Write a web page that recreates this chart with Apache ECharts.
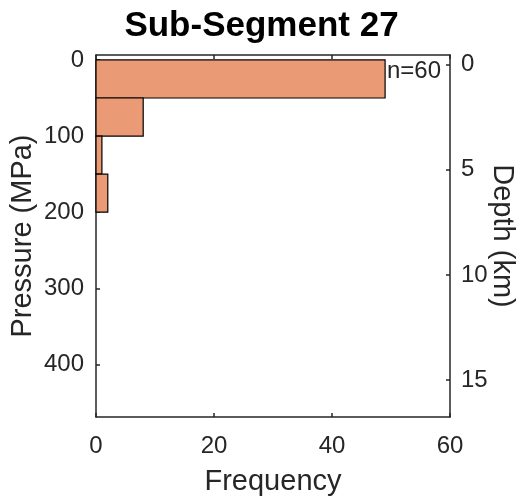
<!DOCTYPE html>
<html>
<head>
<meta charset="utf-8">
<script src="https://cdn.jsdelivr.net/npm/echarts@6/dist/echarts.min.js"></script>
<style>
html,body{margin:0;padding:0;background:#fff;}
#c{width:523px;height:499px;}
</style>
</head>
<body>
<div id="c"></div>
<script>
const binEdges = [0, 50, 100, 150, 200];
const counts = [49, 8, 1, 2];
const pressureTicks = [0, 100, 200, 300, 400];
const depthTicks = [0, 5, 10, 15];
const freqTicks = [0, 20, 40, 60];
const titleText = 'Sub-Segment 27';
const nText = 'n=60';

const FONT = '"Liberation Sans", Arial, Helvetica, sans-serif';
const bins = counts.map((c, i) => [binEdges[i], binEdges[i + 1], c]);

const chart = echarts.init(document.getElementById('c'), null, {renderer: 'canvas'});
const axisLine = {show: true, onZero: false, lineStyle: {color: '#262626', width: 1.5}};
const tick = {show: true, inside: true, length: 4, lineStyle: {color: '#262626', width: 1.5}};
const lbl = {color: '#262626', fontSize: 24, fontFamily: FONT};
const nameStyle = {fontSize: 29, color: '#262626', fontFamily: FONT};

chart.setOption({
  animation: false,
  backgroundColor: '#fff',
  title: {
    text: titleText, left: 'center', top: 4,
    textStyle: {fontSize: 35, fontWeight: 'bold', color: '#000', fontFamily: FONT}
  },
  grid: {left: 96, right: 73, top: 55, bottom: 82, containLabel: false, outerBoundsMode: 'none'},
  xAxis: [{
    type: 'value', min: 0, max: 60, interval: 20, position: 'bottom',
    name: 'Frequency', nameLocation: 'middle', nameGap: 50, nameMoveOverlap: false,
    nameTextStyle: nameStyle,
    axisLine, axisTick: tick, splitLine: {show: false},
    axisLabel: Object.assign({margin: 17, customValues: freqTicks}, lbl)
  }, {
    type: 'value', min: 0, max: 60, interval: 20, position: 'top',
    axisLine, axisTick: tick, splitLine: {show: false}, axisLabel: {show: false}
  }],
  yAxis: [{
    type: 'value', inverse: true, min: -6.5, max: 469, position: 'left',
    name: 'Pressure (MPa)', nameLocation: 'middle', nameGap: 59, nameMoveOverlap: false,
    nameTextStyle: nameStyle,
    axisLine, splitLine: {show: false},
    axisTick: Object.assign({customValues: pressureTicks}, tick),
    axisLabel: Object.assign({margin: 12, customValues: pressureTicks}, lbl)
  }, {
    type: 'value', inverse: true, min: -0.45, max: 16.75, position: 'right',
    name: 'Depth (km)', nameLocation: 'middle', nameGap: 37, nameRotate: -90, nameMoveOverlap: false,
    nameTextStyle: nameStyle,
    axisLine, splitLine: {show: false},
    axisTick: Object.assign({customValues: depthTicks}, tick),
    axisLabel: Object.assign({margin: 11, customValues: depthTicks}, lbl)
  }],
  series: [{
    type: 'custom',
    xAxisIndex: 0, yAxisIndex: 0,
    data: bins,
    renderItem: function (params, api) {
      const lo = api.value(0), hi = api.value(1), c = api.value(2);
      const p0 = api.coord([0, lo]);
      const p1 = api.coord([c, hi]);
      return {
        type: 'rect',
        shape: {x: p0[0], y: p0[1], width: p1[0] - p0[0], height: p1[1] - p0[1]},
        style: {fill: '#EA9A74', stroke: '#000', lineWidth: 1.2}
      };
    },
    encode: {x: 2, y: [0, 1]}
  }],
  graphic: [{
    type: 'text', right: 82, top: 59,
    style: {text: nText, fontSize: 24, fill: '#262626', fontFamily: FONT}
  }]
});
</script>
</body>
</html>
